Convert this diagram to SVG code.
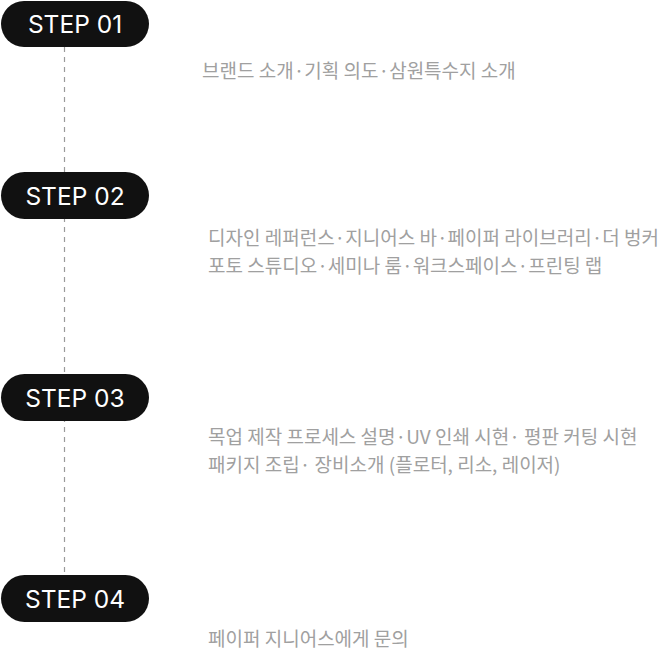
<svg xmlns="http://www.w3.org/2000/svg" width="658" height="656" viewBox="0 0 658 656">
<style>
.pill{fill:#111111}
.step{font-family:Inter,"Noto Sans",sans-serif;font-size:24.5px;fill:#ffffff;text-anchor:middle;font-weight:400}
.desc{font-family:"Noto Sans CJK KR","Noto Sans",sans-serif;font-size:19px;fill:#a0a0a0;font-weight:400}
.dash{stroke:#9a9a9a;stroke-width:1.2;stroke-dasharray:5 5;fill:none}
</style>
<rect width="658" height="656" fill="#ffffff"/>
<g id="connectors">
<line class="dash" x1="64.5" y1="47" x2="64.5" y2="574"/>
</g>
<g id="step01">
<rect class="pill" x="1" y="1" width="148" height="46" rx="23"/>
<text class="step" x="75" y="33">STEP 01</text>
<text class="desc" x="202" y="78">브랜드 소개·기획 의도·삼원특수지 소개</text>
</g>
<g id="step02">
<rect class="pill" x="1" y="172" width="148" height="47" rx="23.5"/>
<text class="step" x="75" y="204.5">STEP 02</text>
<text class="desc" x="208" y="245">디자인 레퍼런스·지니어스 바·페이퍼 라이브러리·더 벙커</text>
<text class="desc" x="208" y="273">포토 스튜디오·세미나 룸·워크스페이스·프린팅 랩</text>
</g>
<g id="step03">
<rect class="pill" x="1" y="374" width="148" height="47" rx="23.5"/>
<text class="step" x="75" y="406.5">STEP 03</text>
<text class="desc" x="208" y="444">목업 제작 프로세스 설명·UV 인쇄 시현· 평판 커팅 시현</text>
<text class="desc" x="208" y="472">패키지 조립· 장비소개 (플로터, 리소, 레이저)</text>
</g>
<g id="step04">
<rect class="pill" x="1" y="575" width="148" height="47" rx="23.5"/>
<text class="step" x="75" y="607.5">STEP 04</text>
<text class="desc" x="208" y="646">페이퍼 지니어스에게 문의</text>
</g>
</svg>
